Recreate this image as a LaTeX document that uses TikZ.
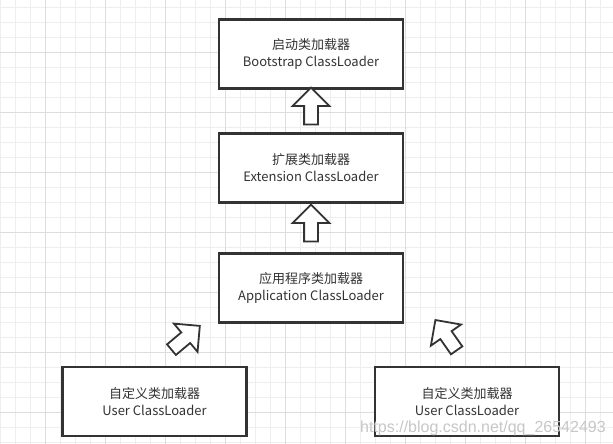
\documentclass[tikz,border=0pt]{standalone}
\usepackage{fontspec}
\setmainfont{Noto Sans CJK SC}
\newfontfamily\markfont{Liberation Sans}
\usetikzlibrary{shapes.arrows}
\definecolor{boxline}{HTML}{333333}
\definecolor{gridminor}{HTML}{EEEEEE}
\definecolor{gridmajor}{HTML}{DDDDDD}

\begin{document}
\begin{tikzpicture}[x=1pt,y=-1pt,
  help lines/.style={line width=0.8pt,draw=gridminor},
  major lines/.style={line width=0.8pt,draw=gridmajor},
  loader/.style={draw=boxline,line width=2.2pt,fill=white,minimum width=184pt,minimum height=69pt,
    align=center,text=boxline,font=\fontsize{13}{17}\selectfont},
  arrowbox/.style={single arrow,draw=boxline,line width=1.8pt,fill=white,minimum height=37pt,
    minimum width=35pt,single arrow head extend=11.5pt,single arrow head indent=0pt,
    inner xsep=0pt,inner ysep=6pt,rotate=#1}]
\useasboundingbox (0,0) rectangle (613,444);
\fill[white] (0,0) rectangle (613,444);
%% background grid
\foreach \gx in {0,15,...,605} \draw[help lines] (\gx,0) -- (\gx,444);
\foreach \gy in {7,22,...,442} \draw[help lines] (0,\gy) -- (613,\gy);
\foreach \gx in {45,105,...,585} \draw[major lines] (\gx,0) -- (\gx,444);
\foreach \gy in {52,112,...,412} \draw[major lines] (0,\gy) -- (613,\gy);
%% loaders
\node[loader] (boot) at (311,54) {启动类加载器\\Bootstrap ClassLoader};
\node[loader] (ext) at (311,168) {扩展类加载器\\Extension ClassLoader};
\node[loader] (app) at (311,288) {应用程序类加载器\\Application ClassLoader};
\node[loader] (userA) at (154.5,401.5) {自定义类加载器\\User ClassLoader};
\node[loader] (userB) at (467,401.5) {自定义类加载器\\User ClassLoader};
%% delegation arrows
\node[arrowbox=90] (upBoot) at (311,109.5) {};
\node[arrowbox=90] (upExt) at (311,226.5) {};
\node[arrowbox=40] (upAppA) at (183,340) {};
\node[arrowbox=125] (upAppB) at (448,338) {};
%% watermark
\node[anchor=base west,inner sep=0pt,text=black!22,font=\markfont\fontsize{16}{16}\selectfont] (mark)
  at (360,432) {https://blog.csdn.net/qq\_26542493};
\end{tikzpicture}
\end{document}
